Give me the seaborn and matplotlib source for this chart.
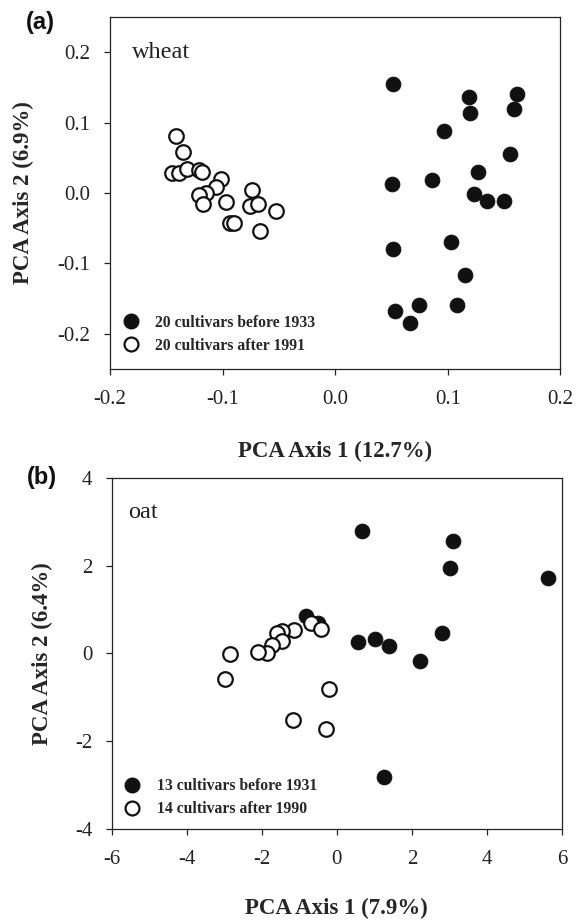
import matplotlib
matplotlib.use("Agg")
import matplotlib.pyplot as plt
import seaborn as sns
import pandas as pd
from matplotlib.lines import Line2D

# ---------------- data ----------------
wheat_old_x = [0.051, 0.119, 0.161, 0.120, 0.159, 0.097, 0.155, 0.127, 0.050, 0.086,
               0.123, 0.135, 0.150, 0.051, 0.103, 0.115, 0.053, 0.074, 0.066, 0.108]
wheat_old_y = [0.155, 0.136, 0.140, 0.113, 0.120, 0.088, 0.056, 0.030, 0.013, 0.018,
               -0.002, -0.011, -0.011, -0.080, -0.070, -0.116, -0.168, -0.159, -0.184, -0.159]
wheat_new_x = [-0.141, -0.135, -0.145, -0.139, -0.132, -0.121, -0.118, -0.101, -0.106, -0.115,
               -0.121, -0.117, -0.097, -0.074, -0.076, -0.069, -0.053, -0.093, -0.090, -0.067]
wheat_new_y = [0.081, 0.058, 0.029, 0.029, 0.034, 0.032, 0.030, 0.020, 0.009, 0.000,
               -0.003, -0.015, -0.013, 0.005, -0.018, -0.016, -0.026, -0.042, -0.042, -0.054]

oat_old_x = [0.66, 3.09, 3.01, 5.64, -0.81, -0.51, 0.55, 1.01, 1.38, 2.22, 2.80, 1.25, -1.50]
oat_old_y = [2.79, 2.56, 1.94, 1.73, 0.85, 0.70, 0.27, 0.33, 0.16, -0.18, 0.46, -2.82, 0.48]
oat_new_x = [-0.69, -0.42, -1.14, -1.46, -1.59, -1.47, -1.73, -1.85, -2.11, -2.84,
             -2.99, -0.20, -1.16, -0.28]
oat_new_y = [0.69, 0.56, 0.53, 0.51, 0.46, 0.28, 0.20, 0.00, 0.04, -0.02,
             -0.58, -0.80, -1.51, -1.73]

wheat_labels = ["20 cultivars before 1933", "20 cultivars after 1991"]
oat_labels = ["13 cultivars before 1931", "14 cultivars after 1990"]
wheat_xticks = [-0.2, -0.1, 0.0, 0.1, 0.2]
wheat_yticks = [-0.2, -0.1, 0.0, 0.1, 0.2]
oat_xticks = [-6, -4, -2, 0, 2, 4, 6]
oat_yticks = [-4, -2, 0, 2, 4]

# ---------------- style ----------------
sns.set_theme(style="ticks")
plt.rcParams["font.family"] = ["Liberation Serif", "DejaVu Serif"]
plt.rcParams["axes.unicode_minus"] = False
plt.rcParams["axes.edgecolor"] = "#222222"
plt.rcParams["axes.linewidth"] = 0.9

fig = plt.figure(figsize=(5.81, 9.24), dpi=100)
ax_a = fig.add_axes([0.1893, 0.6006, 0.7754, 0.3810])
ax_b = fig.add_axes([0.1923, 0.1028, 0.7750, 0.3799])

MS = 110


def draw(ax, ox, oy, nx, ny, labels, leg_y):
    d_old = pd.DataFrame({"x": ox, "y": oy})
    d_new = pd.DataFrame({"x": nx, "y": ny})
    sns.scatterplot(data=d_old, x="x", y="y", ax=ax, s=MS, color="#111111",
                    edgecolor="#111111", linewidth=0.8, zorder=3)
    sns.scatterplot(data=d_new, x="x", y="y", ax=ax, s=MS, color="white",
                    edgecolor="#111111", linewidth=1.6, zorder=4)
    handles = [
        Line2D([], [], marker="o", linestyle="", markersize=10.5,
               markerfacecolor="#111111", markeredgecolor="#111111"),
        Line2D([], [], marker="o", linestyle="", markersize=10,
               markerfacecolor="white", markeredgecolor="#111111", markeredgewidth=1.6),
    ]
    ax.legend(handles, labels, loc="lower left", bbox_to_anchor=(0.025, leg_y),
              frameon=False, handlelength=1.2, handletextpad=0.95, labelspacing=0.45,
              borderpad=0.0, borderaxespad=0.0,
              prop={"family": "Liberation Serif", "weight": "bold", "size": 11.3})
    for s in ["top", "right", "left", "bottom"]:
        ax.spines[s].set_visible(True)
    ax.tick_params(direction="out", length=4, width=0.9, colors="#222222",
                   labelsize=15, labelcolor="#222222", top=False, right=False)
    ax.tick_params(axis="x", pad=11)
    ax.tick_params(axis="y", pad=10)


draw(ax_a, wheat_old_x, wheat_old_y, wheat_new_x, wheat_new_y, wheat_labels, 0.043)
ax_a.set_xlim(-0.2, 0.2)
ax_a.set_ylim(-0.25, 0.25)
ax_a.set_xticks(wheat_xticks)
ax_a.set_yticks(wheat_yticks)
ax_a.set_xticklabels([f"{v:.1f}" for v in wheat_xticks])
ax_a.set_yticklabels([f"{v:.1f}" for v in wheat_yticks])
ax_a.set_xlabel("PCA Axis 1 (12.7%)", fontsize=16.5, fontweight="bold", labelpad=23)
ax_a.set_ylabel("PCA Axis 2 (6.9%)", fontsize=16.5, fontweight="bold", labelpad=17)
ax_a.text(0.048, 0.884, "wheat", transform=ax_a.transAxes, fontsize=17.5, color="#222222")

draw(ax_b, oat_old_x, oat_old_y, oat_new_x, oat_new_y, oat_labels, 0.033)
ax_b.set_xlim(-6, 6)
ax_b.set_ylim(-4, 4)
ax_b.set_xticks(oat_xticks)
ax_b.set_yticks(oat_yticks)
ax_b.set_xticklabels([str(v) for v in oat_xticks])
ax_b.set_yticklabels([str(v) for v in oat_yticks])
ax_b.set_xlabel("PCA Axis 1 (7.9%)", fontsize=16.5, fontweight="bold", labelpad=21)
ax_b.set_ylabel("PCA Axis 2 (6.4%)", fontsize=16.5, fontweight="bold", labelpad=16)
ax_b.text(0.036, 0.886, "oat", transform=ax_b.transAxes, fontsize=17.5, color="#222222")

fig.text(26 / 581, 1 - 11 / 924, "(a)", fontsize=17, fontweight="bold",
         family="Liberation Sans", color="#111111", va="top")
fig.text(27 / 581, 1 - 466 / 924, "(b)", fontsize=17, fontweight="bold",
         family="Liberation Sans", color="#111111", va="top")

fig.savefig("out.png", dpi=100)
